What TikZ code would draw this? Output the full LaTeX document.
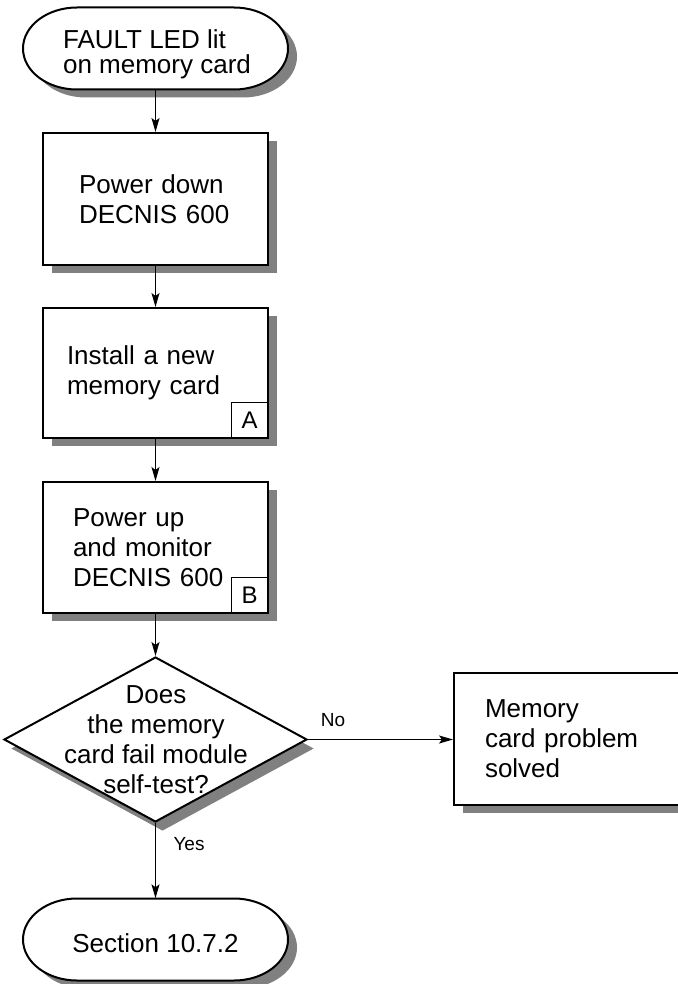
\documentclass[tikz,border=0pt]{standalone}
\usepackage{fontspec}
\setmainfont{Liberation Sans}
\usetikzlibrary{shapes.geometric,shadows,arrows.meta}
\definecolor{shadowgray}{gray}{0.5}
\tikzset{
  bodyfont/.style={font=\fontsize{26}{30}\selectfont},
  boxshadow/.style={drop shadow={shadow xshift=9pt,shadow yshift=-8pt,fill=shadowgray,opacity=1}},
  procbox/.style={rectangle, draw, line width=2pt, fill=white, minimum width=225pt, minimum height=132pt, align=left, bodyfont, boxshadow, inner ysep=0pt},
  tagbox/.style={draw, line width=0.9pt, minimum width=36pt, minimum height=35pt, inner sep=0pt, anchor=south east, font=\fontsize{24}{28}\selectfont},
  decision/.style={diamond, draw, line width=2pt, fill=white, minimum width=303pt, minimum height=165pt, inner sep=0pt, drop shadow={shadow xshift=7pt,shadow yshift=-9pt,fill=shadowgray,opacity=1}},
  termframe/.style={minimum width=265pt, minimum height=82pt, inner sep=0pt},
  termtext/.style={inner sep=0pt, align=left, font=\fontsize{26}{25}\selectfont},
  conn/.style={line width=1.2pt, -{Stealth[length=14pt,width=8pt,inset=3pt]}},
  branchlabel/.style={font=\fontsize{19}{22}\selectfont, inner sep=0pt},
}
\newcommand{\capsule}[2]{%
  \fill[shadowgray, xshift=9pt, yshift=-8pt] (#1-78.5,#2-41) -- (#1+78.5,#2-41) arc[start angle=90,end angle=-90,x radius=54pt,y radius=41pt] -- (#1-78.5,#2+41) arc[start angle=270,end angle=90,x radius=54pt,y radius=41pt] -- cycle;
  \draw[line width=2pt, fill=white] (#1-78.5,#2-41) -- (#1+78.5,#2-41) arc[start angle=90,end angle=-90,x radius=54pt,y radius=41pt] -- (#1-78.5,#2+41) arc[start angle=270,end angle=90,x radius=54pt,y radius=41pt] -- cycle;
}
\begin{document}
\begin{tikzpicture}[x=1pt,y=-1pt]
\useasboundingbox (0,0) rectangle (677,984);
\fill[white] (0,0) rectangle (677,984);

% top terminal
\capsule{155.5}{48.5}
\node[termframe] (t1) at (155.5,48.5) {};
\node[termtext] (t1text) at (157,54.5) {FAULT LED lit\\on memory card};

% process boxes
\node[procbox, text width=153pt, inner xsep=36pt] (b1) at (155.5,199) {Power down\\DECNIS 600};
\node[procbox, text width=177pt, inner xsep=24pt, minimum height=130pt] (b2) at (155.5,373) {Install a new\\memory card};
\node[tagbox] (ta) at ([shift={(-1pt,1pt)}]b2.south east) {A};
\node[procbox, text width=165pt, inner xsep=30pt, minimum height=131pt] (b3) at (155.5,547.5) {Power up\\and monitor\\DECNIS 600};
\node[tagbox] (tb) at ([shift={(-1pt,1pt)}]b3.south east) {B};

% decision
\node[decision] (d) at (155.5,739.5) {};
\node[bodyfont, align=center, inner sep=0pt] (dtext) at (156,740) {Does\\the memory\\card fail module\\self-test?};

% right box
\node[procbox, text width=164pt, inner xsep=31pt, minimum width=226pt] (r) at (567,739) {Memory\\card problem\\solved};

% bottom terminal
\capsule{155.5}{939.5}
\node[termframe] (t2) at (155.5,939.5) {};
\node[bodyfont, inner sep=0pt] (t2text) at (155.5,943.5) {Section 10.7.2};

% connectors
\draw[conn] (t1.south) -- (b1.north);
\draw[conn] (b1.south) -- (b2.north);
\draw[conn] (b2.south) -- (b3.north);
\draw[conn] (b3.south) -- (d.north);
\draw[conn] (d.east) -- (d.east -| r.west);
\draw[conn] (d.south) -- (t2.north);

\node[branchlabel] (no) at (333,720) {No};
\node[branchlabel] (yes) at (189,844) {Yes};
\end{tikzpicture}
\end{document}
